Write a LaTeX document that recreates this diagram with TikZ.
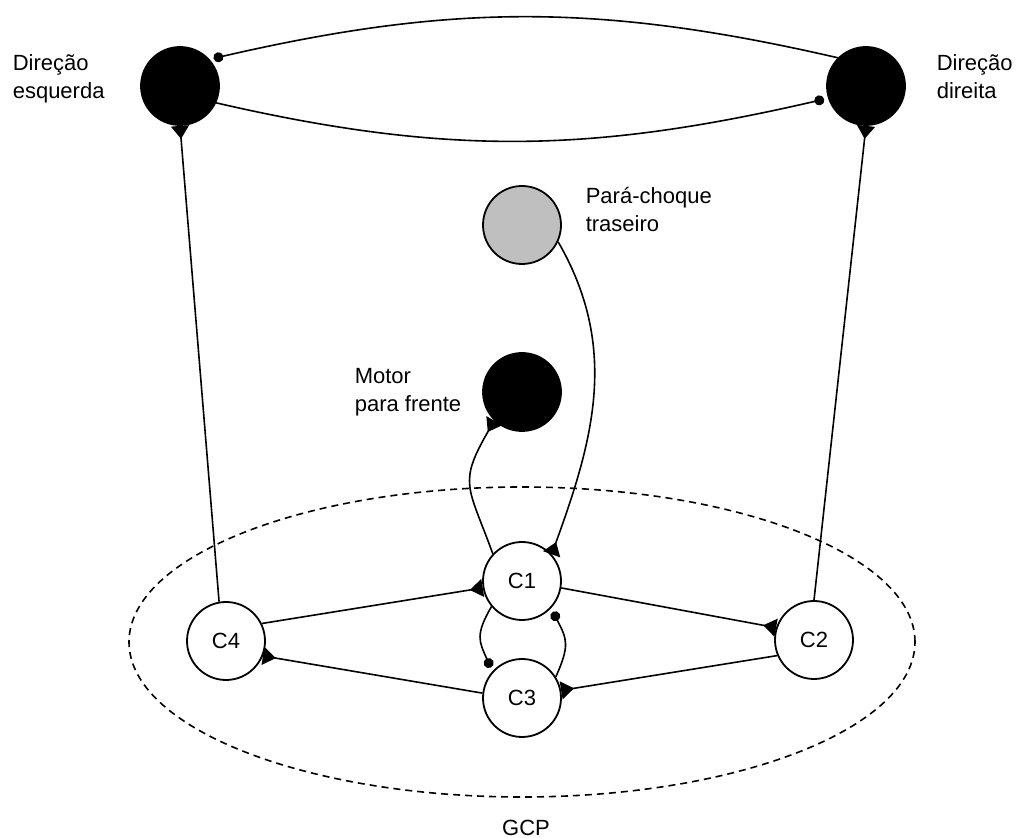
\documentclass[tikz,border=0pt]{standalone}
\usepackage{fontspec}
\setmainfont{Liberation Sans}
\usetikzlibrary{arrows.meta}
\tikzstyle{neuron}=[circle,draw,line width=0.9pt,minimum size=39pt,inner sep=0pt]
\tikzstyle{excit}=[-{Triangle[reversed,length=6.5pt,width=9pt]}]
\tikzstyle{inhib}=[-{Circle[length=5pt]},shorten >=2pt]
\tikzstyle{rotulo}=[align=left,inner sep=0pt,anchor=north west]
\begin{document}
\begin{tikzpicture}[x=0.5pt,y=0.5pt,line width=0.8pt,font=\fontsize{11}{14}\selectfont]
\useasboundingbox (0,0) rectangle (1019,-838);
% GCP
\draw[dash pattern=on 3.5pt off 2.5pt] (522,-642) ellipse [x radius=393,y radius=155];
\node (lgcp) at (526,-828) {GCP};
% neuronios
\node[neuron,fill=black] (esq) at (180,-86) {};
\node[neuron,fill=black] (dir) at (866,-86) {};
\node[neuron,fill=black!25] (para) at (522,-225) {};
\node[neuron,fill=black] (motor) at (522,-392) {};
\node[neuron] (c1) at (522,-581) {C1};
\node[neuron] (c3) at (522,-698) {C3};
\node[neuron] (c2) at (814,-640) {C2};
\node[neuron] (c4) at (226,-641) {C4};
% rotulos
\node[rotulo] (lesq) at (12,-54) {Direção\\esquerda};
\node[rotulo] (ldir) at (936,-54) {Direção\\direita};
\node[rotulo] (lpara) at (585,-187) {Pará-choque\\traseiro};
\node[rotulo] (lmotor) at (354,-368) {Motor\\para frente};
% ligacoes
\draw[inhib] (dir.135) to[out=167,in=13] (esq.42);
\draw[inhib] (esq.-25) to[out=-13,in=193] (dir.198);
\draw[excit] (c4.100) -- (esq.south);
\draw[excit] (c2.north) -- (dir.south);
\draw[excit] (para.-25) to[out=-60,in=70] (c1.42);
\draw[excit] (c1.137) to[out=110,in=-120,looseness=1.4] (motor.226);
\draw[excit] (c4.26) -- (c1.190);
\draw[excit] (c1.-10) -- (c2.162);
\draw[excit] (c2.203) -- (c3.11);
\draw[excit] (c3.173) -- (c4.-22);
\draw[inhib] (c1.220) to[out=240,in=114,looseness=1.3] (c3.138);
\draw[inhib] (c3.32) to[out=66,in=-63,looseness=1.3] (c1.-43);
\end{tikzpicture}
\end{document}
